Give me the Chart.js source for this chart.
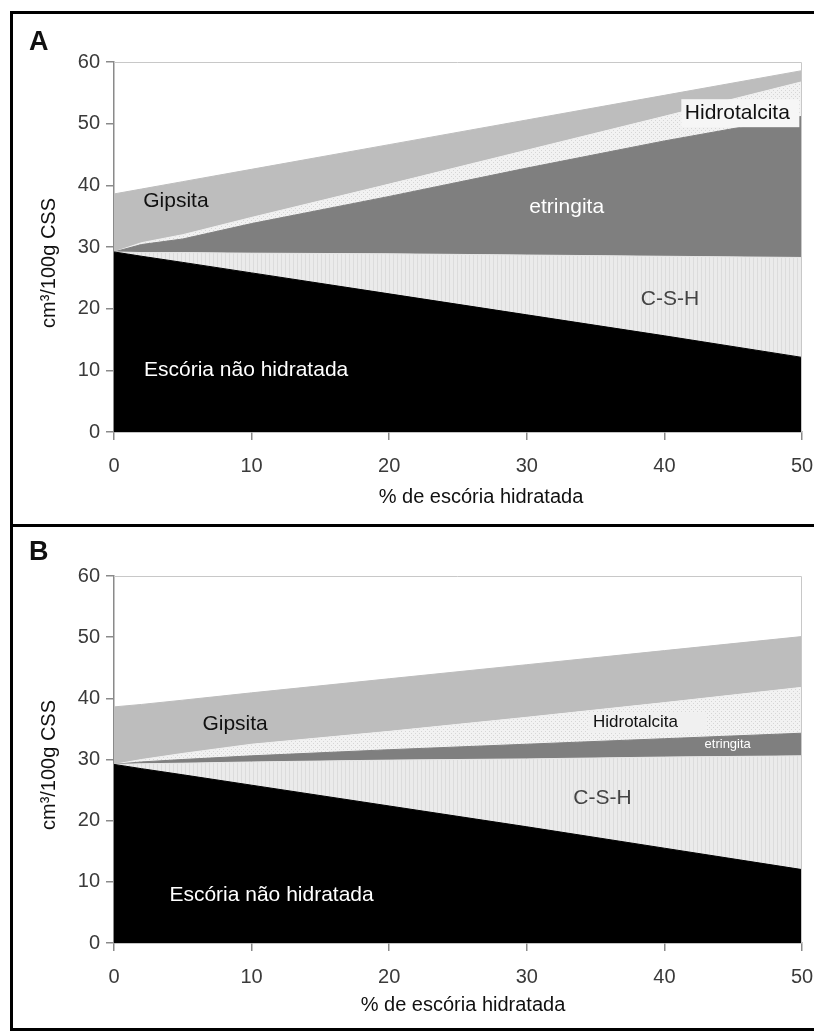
<!DOCTYPE html>
<html>
<head>
<meta charset="utf-8">
<script src="https://cdn.jsdelivr.net/npm/chart.js@4.4.1/dist/chart.umd.min.js"></script>
<style>
  html, body { margin: 0; padding: 0; background: #fff; overflow: hidden; }
  .frame { position: absolute; left: 10px; top: 11px; width: 840px; border: 3px solid #000; }
  .panel { position: relative; overflow: hidden; }
  #panelA { height: 510px; border-bottom: 3px solid #000; }
  #panelB { height: 501px; }
  .tag { position: absolute; left: 16px; font: bold 27px "Liberation Sans", Arial, sans-serif; color: #111; }
  canvas { position: absolute; left: 0; top: 0; }
</style>
</head>
<body>
<div class="frame">
  <div class="panel" id="panelA">
    <canvas id="chartA" width="830" height="510"></canvas>
    <div class="tag" style="top:12px">A</div>
  </div>
  <div class="panel" id="panelB">
    <canvas id="chartB" width="830" height="501"></canvas>
    <div class="tag" style="top:9px">B</div>
  </div>
</div>
<script>
'use strict';

/* ── DATA (cumulative upper edge of each layer) ─────────────────── */
var xs = [0, 2, 5, 10, 20, 30, 40, 50];

var escoriaA = [29.2, 28.5, 27.5, 25.8, 22.4, 19.0, 15.6, 12.1];
var cshA     = [29.2, 29.1, 29.1, 29.0, 28.9, 28.7, 28.5, 28.3];
var etrA     = [29.2, 30.4, 31.3, 33.8, 38.2, 42.8, 47.2, 51.2];
var hidA     = [29.2, 30.7, 32.0, 34.8, 40.2, 45.7, 51.2, 56.8];
var gipA     = [38.6, 39.4, 40.6, 42.6, 46.6, 50.6, 54.6, 58.6];

var escoriaB = [29.2, 28.5, 27.5, 25.8, 22.4, 19.0, 15.5, 12.0];
var cshB     = [29.2, 29.3, 29.4, 29.6, 29.9, 30.1, 30.4, 30.6];
var etrB     = [29.2, 29.6, 30.0, 30.6, 31.6, 32.5, 33.4, 34.3];
var hidB     = [29.2, 30.0, 31.0, 32.5, 34.6, 36.9, 39.3, 41.8];
var gipB     = [38.6, 39.0, 39.7, 40.9, 43.2, 45.5, 47.8, 50.1];

var yTicks = [0, 10, 20, 30, 40, 50, 60];
var xTicks = [0, 10, 20, 30, 40, 50];
var xTitle = '% de escória hidratada';
var yTitle = 'cm³/100g CSS';

var FONT = '"Liberation Sans", Arial, sans-serif';

/* ── PATTERNS ───────────────────────────────────────────────────── */
function makePattern(draw) {
  var c = document.createElement('canvas');
  c.width = 4; c.height = 4;
  draw(c.getContext('2d'));
  return c.getContext('2d').createPattern(c, 'repeat');
}
var cshFill = makePattern(function(g) {
  g.fillStyle = '#ebebeb'; g.fillRect(0, 0, 4, 4);
  g.fillStyle = '#dcdcdc'; g.fillRect(0, 0, 1, 4);
});
var hidFill = makePattern(function(g) {
  g.fillStyle = '#f2f2f2'; g.fillRect(0, 0, 4, 4);
  g.fillStyle = '#d6d6d6'; g.fillRect(0, 0, 1, 1); g.fillRect(2, 2, 1, 1);
});

function pts(arr) {
  return arr.map(function(v, i) { return { x: xs[i], y: v }; });
}

function layer(arr, fillStyle, edge, fillTo) {
  return {
    data: pts(arr),
    backgroundColor: fillStyle,
    borderColor: edge,
    borderWidth: 1,
    pointRadius: 0,
    tension: 0,
    fill: fillTo
  };
}

/* ── TEXT / FRAME PLUGIN ────────────────────────────────────────── */
var panelText = {
  id: 'panelText',
  afterDatasetsDraw: function(chart, args, opts) {
    var ctx = chart.ctx, sx = chart.scales.x, sy = chart.scales.y, a = chart.chartArea;
    ctx.save();
    ctx.strokeStyle = '#c8c8c8'; ctx.lineWidth = 1;
    ctx.beginPath();
    ctx.moveTo(a.left, a.top + 0.5);
    ctx.lineTo(a.right - 0.5, a.top + 0.5);
    ctx.lineTo(a.right - 0.5, a.bottom);
    ctx.stroke();
    opts.items.forEach(function(it) {
      var px = sx.getPixelForValue(it.x), py = sy.getPixelForValue(it.y);
      ctx.font = it.size + 'px ' + FONT;
      ctx.textAlign = 'center'; ctx.textBaseline = 'middle';
      if (it.box) {
        ctx.fillStyle = it.box;
        ctx.fillRect(px + (it.bdx || 0) - it.bw / 2, py - it.bh / 2, it.bw, it.bh);
      }
      ctx.fillStyle = it.color;
      ctx.fillText(it.text, px, py);
    });
    ctx.restore();
  },
  afterDraw: function(chart, args, opts) {
    var ctx = chart.ctx;
    ctx.save();
    ctx.fillStyle = '#111';
    ctx.font = '20px ' + FONT;
    ctx.textAlign = 'center'; ctx.textBaseline = 'middle';
    ctx.fillText(xTitle, opts.xt[0], opts.xt[1]);
    ctx.translate(opts.yt[0], opts.yt[1]);
    ctx.rotate(-Math.PI / 2);
    ctx.fillText(yTitle, 0, 0);
    ctx.restore();
  }
};

function makeChart(id, sets, items, pad, xt, yt) {
  var canvas = document.getElementById(id);
  return new Chart(canvas, {
    type: 'line',
    data: {
      datasets: [
        layer(sets[0], '#000000', '#000000', 'origin'),
        layer(sets[1], cshFill, '#e6e6e6', '-1'),
        layer(sets[2], '#7f7f7f', '#7f7f7f', '-1'),
        layer(sets[3], hidFill, '#eeeeee', '-1'),
        layer(sets[4], '#bdbdbd', '#bdbdbd', '-1')
      ]
    },
    options: {
      responsive: false,
      animation: false,
      layout: { padding: pad },
      scales: {
        x: {
          type: 'linear', min: 0, max: 50,
          afterBuildTicks: function(s) { s.ticks = xTicks.map(function(v) { return { value: v }; }); },
          afterFit: function(s) { s.height = 80; },
          grid: { drawOnChartArea: false, drawTicks: true, tickLength: 8, color: '#8a8a8a', lineWidth: 1.5 },
          border: { color: '#8a8a8a', width: 1.5 },
          ticks: { color: '#3a3a3a', font: { family: FONT, size: 20 }, padding: 14, maxRotation: 0 }
        },
        y: {
          min: 0, max: 60,
          afterBuildTicks: function(s) { s.ticks = yTicks.map(function(v) { return { value: v }; }); },
          afterFit: function(s) { s.width = 101; },
          grid: { drawOnChartArea: false, drawTicks: true, tickLength: 8, color: '#8a8a8a', lineWidth: 1.5 },
          border: { color: '#8a8a8a', width: 1.5 },
          ticks: { color: '#3a3a3a', font: { family: FONT, size: 20 }, padding: 6 }
        }
      },
      plugins: {
        legend: { display: false },
        tooltip: { enabled: false },
        filler: { propagate: false },
        panelText: { items: items, xt: xt, yt: yt }
      }
    },
    plugins: [panelText]
  });
}

var labelsA = [
  { text: 'Gipsita', x: 4.5, y: 37.5, size: 21, color: '#111' },
  { text: 'etringita', x: 32.9, y: 36.5, size: 21, color: '#ffffff' },
  { text: 'Hidrotalcita', x: 45.3, y: 51.7, size: 21, color: '#111', box: '#f6f6f6', bw: 118, bh: 28, bdx: 3 },
  { text: 'C-S-H', x: 40.4, y: 21.6, size: 21, color: '#444' },
  { text: 'Escória não hidratada', x: 9.6, y: 10.0, size: 21, color: '#ffffff' }
];
var labelsB = [
  { text: 'Gipsita', x: 8.8, y: 35.8, size: 21, color: '#111' },
  { text: 'Hidrotalcita', x: 37.9, y: 36.0, size: 17, color: '#111', box: '#f0f0f0', bw: 118, bh: 20, bdx: 12 },
  { text: 'etringita', x: 44.6, y: 32.4, size: 13, color: '#ffffff' },
  { text: 'C-S-H', x: 35.5, y: 23.7, size: 21, color: '#444' },
  { text: 'Escória não hidratada', x: 11.45, y: 7.85, size: 21, color: '#ffffff' }
];

makeChart('chartA', [escoriaA, cshA, etrA, hidA, gipA], labelsA,
  { left: 0, top: 48, right: 41, bottom: 12 }, [468, 483], [36, 249]);
makeChart('chartB', [escoriaB, cshB, etrB, hidB, gipB], labelsB,
  { left: 0, top: 49, right: 41, bottom: 5 }, [450, 478], [36, 238]);
</script>
</body>
</html>
